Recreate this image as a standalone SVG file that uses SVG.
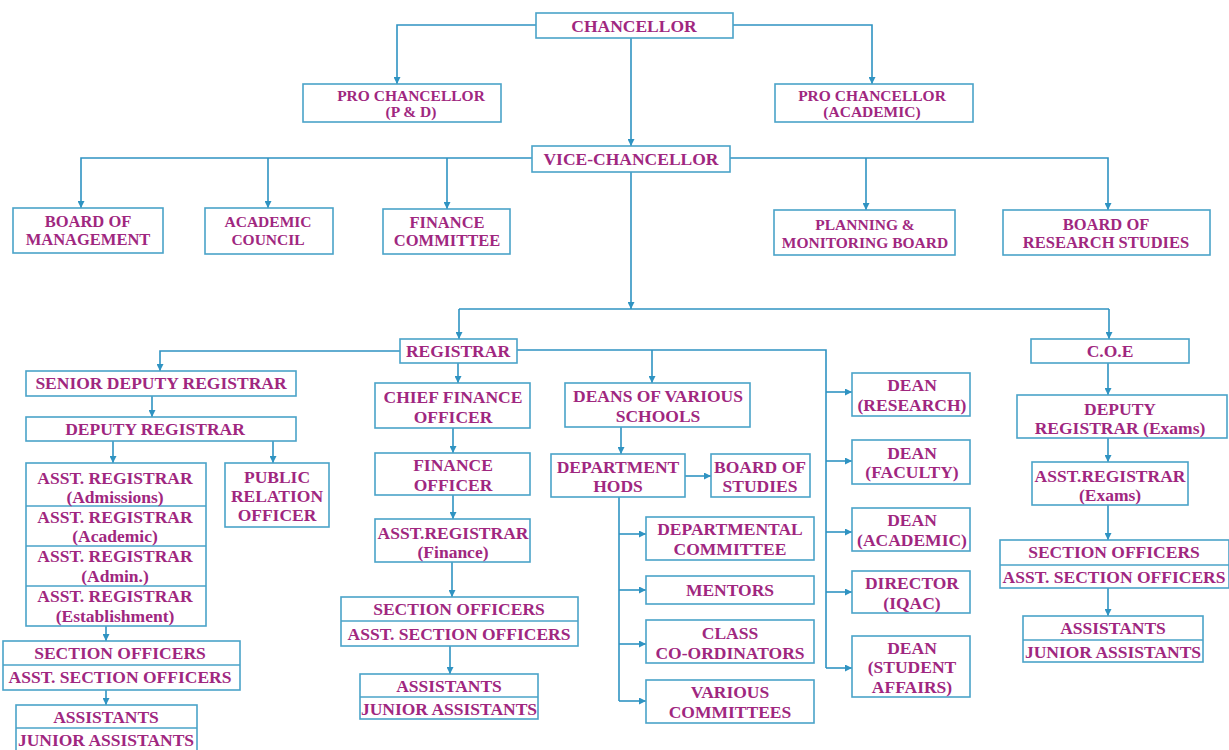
<svg xmlns="http://www.w3.org/2000/svg" width="1229" height="750" viewBox="0 0 1229 750">
<defs>
<style>
.b{fill:#ffffff;stroke:#4aa3c9;stroke-width:1.6}
.d{stroke:#4aa3c9;stroke-width:1.4;fill:none}
.t{font-family:'Liberation Serif','DejaVu Serif',serif;font-weight:bold;font-size:17.5px;fill:#a0277f;text-anchor:middle}
.s{font-size:15.5px}
.m{font-size:16.5px}
.c{stroke:#2f93c2;stroke-width:1.6;fill:none}
.a{marker-end:url(#ah)}
</style>
<marker id="ah" viewBox="0 0 8 8" refX="8" refY="4" markerWidth="7" markerHeight="7" markerUnits="userSpaceOnUse" orient="auto">
<path d="M0,0 L8,4 L0,8 z" fill="#2f93c2"/>
</marker>
</defs>
<rect width="1229" height="750" fill="#ffffff"/>
<g id="connectors">
<path class="c a" d="M733,25 H872 V84"/>
<path class="c a" d="M536,25 H397 V84"/>
<path class="c a" d="M631,38 V146"/>
<path class="c a" d="M532,158 H81 V208"/>
<path class="c a" d="M268,158 V208"/>
<path class="c a" d="M447,158 V209"/>
<path class="c a" d="M730,158 H1108 V210"/>
<path class="c a" d="M866,158 V210"/>
<path class="c a" d="M631,172 V309"/>
<path class="c" d="M459,309 H1109"/>
<path class="c a" d="M459,309 V339"/>
<path class="c a" d="M1109,309 V339"/>
<path class="c a" d="M400,351 H160 V371"/>
<path class="c a" d="M458,363 V383"/>
<path class="c" d="M517,350 H826 V668"/>
<path class="c a" d="M652,350 V383"/>
<path class="c a" d="M826,392 H852"/>
<path class="c a" d="M826,461 H852"/>
<path class="c a" d="M826,532 H852"/>
<path class="c a" d="M826,592 H852"/>
<path class="c a" d="M826,668 H852"/>
<path class="c a" d="M152,396 V417"/>
<path class="c a" d="M113,441 V463"/>
<path class="c a" d="M273,441 V463"/>
<path class="c a" d="M106,626 V641"/>
<path class="c a" d="M106,690 V705"/>
<path class="c a" d="M453,428 V453"/>
<path class="c a" d="M453,495 V519"/>
<path class="c a" d="M452,562 V597"/>
<path class="c a" d="M450,646 V674"/>
<path class="c a" d="M621,427 V454"/>
<path class="c a" d="M685,476 H711"/>
<path class="c" d="M619,497 V701"/>
<path class="c a" d="M619,534 H646"/>
<path class="c a" d="M619,590 H646"/>
<path class="c a" d="M619,644 H646"/>
<path class="c a" d="M619,701 H646"/>
<path class="c a" d="M1108,363 V395"/>
<path class="c a" d="M1108,438 V462"/>
<path class="c a" d="M1108,505 V540"/>
<path class="c a" d="M1108,588 V616"/>
</g>
<g id="chancellor"><rect class="b" x="536" y="13" width="197" height="25"/><text class="t" x="634" y="32">CHANCELLOR</text></g>
<g id="pro-chancellor-pd"><rect class="b" x="303" y="84" width="198" height="38"/><text class="t s" x="411" y="101">PRO CHANCELLOR</text><text class="t s" x="411" y="117">(P &amp; D)</text></g>
<g id="pro-chancellor-academic"><rect class="b" x="775" y="84" width="198" height="38"/><text class="t s" x="872" y="101">PRO CHANCELLOR</text><text class="t s" x="872" y="117">(ACADEMIC)</text></g>
<g id="vice-chancellor"><rect class="b" x="532" y="146" width="198" height="26"/><text class="t" x="631" y="165">VICE-CHANCELLOR</text></g>
<g id="board-of-management"><rect class="b" x="13" y="208" width="150" height="45"/><text class="t m" x="88" y="227">BOARD OF</text><text class="t m" x="88" y="245">MANAGEMENT</text></g>
<g id="academic-council"><rect class="b" x="205" y="208" width="128" height="46"/><text class="t s" x="268" y="227">ACADEMIC</text><text class="t s" x="268" y="245">COUNCIL</text></g>
<g id="finance-committee"><rect class="b" x="383" y="209" width="127" height="45"/><text class="t m" x="447" y="228">FINANCE</text><text class="t m" x="447" y="246">COMMITTEE</text></g>
<g id="planning-board"><rect class="b" x="774" y="210" width="181" height="45"/><text class="t s" x="865" y="230">PLANNING &amp;</text><text class="t s" x="865" y="248">MONITORING BOARD</text></g>
<g id="board-research"><rect class="b" x="1003" y="210" width="207" height="45"/><text class="t m" x="1106" y="230">BOARD OF</text><text class="t m" x="1106" y="248">RESEARCH STUDIES</text></g>
<g id="registrar"><rect class="b" x="400" y="339" width="117" height="24"/><text class="t" x="458" y="357">REGISTRAR</text></g>
<g id="coe"><rect class="b" x="1031" y="339" width="158" height="24"/><text class="t" x="1110" y="357">C.O.E</text></g>
<g id="senior-deputy-registrar"><rect class="b" x="26" y="371" width="270" height="25"/><text class="t" x="161" y="389">SENIOR DEPUTY REGISTRAR</text></g>
<g id="deputy-registrar"><rect class="b" x="26" y="417" width="270" height="24"/><text class="t" x="155" y="435">DEPUTY REGISTRAR</text></g>
<g id="asst-registrars"><rect class="b" x="26" y="463" width="180" height="163"/><path class="d" d="M26,506 H206 M26,546 H206 M26,586 H206"/>
<text class="t" x="115" y="484">ASST. REGISTRAR</text><text class="t" x="115" y="503">(Admissions)</text>
<text class="t" x="115" y="523">ASST. REGISTRAR</text><text class="t" x="115" y="542">(Academic)</text>
<text class="t" x="115" y="562">ASST. REGISTRAR</text><text class="t" x="115" y="582">(Admin.)</text>
<text class="t" x="115" y="602">ASST. REGISTRAR</text><text class="t" x="115" y="622">(Establishment)</text></g>
<g id="public-relation-officer"><rect class="b" x="225" y="463" width="104" height="64"/><text class="t" x="277" y="483">PUBLIC</text><text class="t" x="277" y="502">RELATION</text><text class="t" x="277" y="521">OFFICER</text></g>
<g id="section-officers-left"><rect class="b" x="3" y="641" width="237" height="49"/><path class="d" d="M3,665 H240"/><text class="t" x="120" y="659">SECTION OFFICERS</text><text class="t" x="120" y="683">ASST. SECTION OFFICERS</text></g>
<g id="assistants-left"><rect class="b" x="16" y="705" width="181" height="50"/><path class="d" d="M16,728 H197"/><text class="t" x="106" y="723">ASSISTANTS</text><text class="t" x="106" y="746">JUNIOR ASSISTANTS</text></g>
<g id="chief-finance-officer"><rect class="b" x="375" y="383" width="155" height="45"/><text class="t" x="453" y="403">CHIEF FINANCE</text><text class="t" x="453" y="423">OFFICER</text></g>
<g id="finance-officer"><rect class="b" x="375" y="453" width="155" height="42"/><text class="t" x="453" y="471">FINANCE</text><text class="t" x="453" y="491">OFFICER</text></g>
<g id="asst-registrar-finance"><rect class="b" x="375" y="519" width="155" height="43"/><text class="t" x="453" y="539">ASST.REGISTRAR</text><text class="t" x="453" y="558">(Finance)</text></g>
<g id="section-officers-mid"><rect class="b" x="341" y="597" width="237" height="49"/><path class="d" d="M341,621 H578"/><text class="t" x="459" y="615">SECTION OFFICERS</text><text class="t" x="459" y="640">ASST. SECTION OFFICERS</text></g>
<g id="assistants-mid"><rect class="b" x="360" y="674" width="178" height="45"/><path class="d" d="M360,697 H538"/><text class="t" x="449" y="692">ASSISTANTS</text><text class="t" x="449" y="715">JUNIOR ASSISTANTS</text></g>
<g id="deans-various-schools"><rect class="b" x="565" y="383" width="185" height="44"/><text class="t" x="658" y="402">DEANS OF VARIOUS</text><text class="t" x="658" y="422">SCHOOLS</text></g>
<g id="department-hods"><rect class="b" x="551" y="454" width="134" height="43"/><text class="t" x="618" y="473">DEPARTMENT</text><text class="t" x="618" y="492">HODS</text></g>
<g id="board-of-studies"><rect class="b" x="711" y="454" width="99" height="43"/><text class="t" x="760" y="473">BOARD OF</text><text class="t" x="760" y="492">STUDIES</text></g>
<g id="departmental-committee"><rect class="b" x="646" y="517" width="168" height="43"/><text class="t" x="730" y="535">DEPARTMENTAL</text><text class="t" x="730" y="555">COMMITTEE</text></g>
<g id="mentors"><rect class="b" x="646" y="576" width="168" height="28"/><text class="t" x="730" y="596">MENTORS</text></g>
<g id="class-coordinators"><rect class="b" x="646" y="620" width="168" height="43"/><text class="t" x="730" y="639">CLASS</text><text class="t" x="730" y="659">CO-ORDINATORS</text></g>
<g id="various-committees"><rect class="b" x="646" y="680" width="168" height="43"/><text class="t" x="730" y="698">VARIOUS</text><text class="t" x="730" y="718">COMMITTEES</text></g>
<g id="dean-research"><rect class="b" x="852" y="373" width="118" height="43"/><text class="t" x="912" y="391">DEAN</text><text class="t" x="912" y="411">(RESEARCH)</text></g>
<g id="dean-faculty"><rect class="b" x="852" y="440" width="118" height="44"/><text class="t" x="912" y="459">DEAN</text><text class="t" x="912" y="478">(FACULTY)</text></g>
<g id="dean-academic"><rect class="b" x="852" y="508" width="118" height="43"/><text class="t" x="912" y="526">DEAN</text><text class="t" x="912" y="546">(ACADEMIC)</text></g>
<g id="director-iqac"><rect class="b" x="852" y="571" width="118" height="42"/><text class="t" x="912" y="589">DIRECTOR</text><text class="t" x="912" y="609">(IQAC)</text></g>
<g id="dean-student-affairs"><rect class="b" x="852" y="636" width="118" height="61"/><text class="t" x="912" y="654">DEAN</text><text class="t" x="912" y="673">(STUDENT</text><text class="t" x="912" y="693">AFFAIRS)</text></g>
<g id="deputy-registrar-exams"><rect class="b" x="1017" y="395" width="210" height="43"/><text class="t" x="1120" y="415">DEPUTY</text><text class="t" x="1120" y="434">REGISTRAR (Exams)</text></g>
<g id="asst-registrar-exams"><rect class="b" x="1032" y="462" width="156" height="43"/><text class="t" x="1110" y="482">ASST.REGISTRAR</text><text class="t" x="1110" y="501">(Exams)</text></g>
<g id="section-officers-right"><rect class="b" x="1000" y="540" width="229" height="48"/><path class="d" d="M1000,565 H1229"/><text class="t" x="1114" y="558">SECTION OFFICERS</text><text class="t" x="1114" y="583">ASST. SECTION OFFICERS</text></g>
<g id="assistants-right"><rect class="b" x="1023" y="616" width="180" height="46"/><path class="d" d="M1023,640 H1203"/><text class="t" x="1113" y="634">ASSISTANTS</text><text class="t" x="1113" y="658">JUNIOR ASSISTANTS</text></g>
</svg>
